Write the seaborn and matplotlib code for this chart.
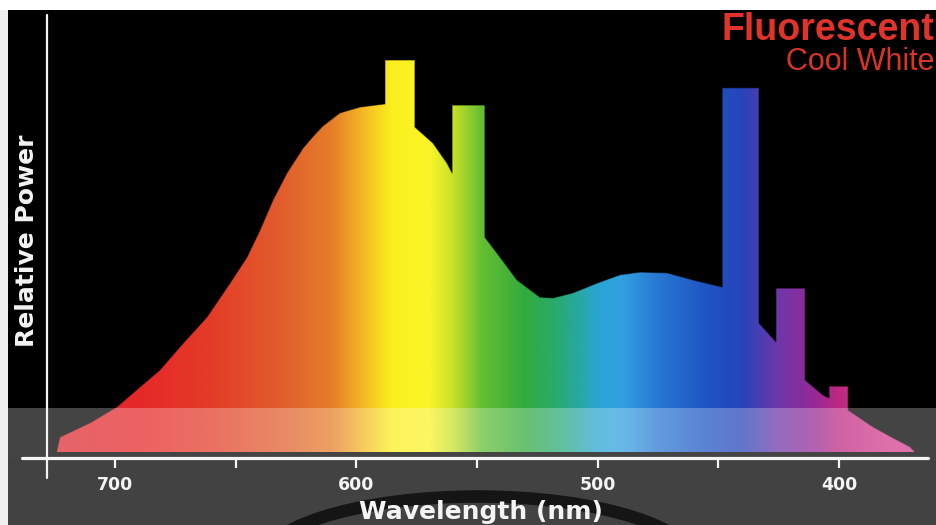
#!/usr/bin/env python3
"""Spectral power distribution of a cool white fluorescent lamp."""

from __future__ import annotations

import matplotlib

matplotlib.use("Agg")

import matplotlib.pyplot as plt
import numpy as np
import pandas as pd
import seaborn as sns
from matplotlib.patches import Ellipse, Rectangle

# continuum with the mercury / phosphor lines drawn as flat-topped blocks
wavelength_nm = [
    724.0, 722.8, 710.4, 699.2, 689.6, 681.4, 673.1, 661.9, 652.3, 645.3,
    639.9, 634.5, 628.7, 622.1, 617.5, 613.8, 606.8, 598.5, 588.1, 588.1,
    575.7, 575.7, 568.2, 562.4, 560.3, 560.3, 546.7, 546.7, 540.4, 533.4,
    523.9, 518.5, 510.2, 500.2, 490.7, 482.4, 471.2, 460.5, 448.4, 448.4,
    433.1, 433.1, 426.1, 426.1, 414.0, 414.0, 406.6, 404.1, 404.1, 396.2,
    396.2, 385.9, 377.6, 370.5, 368.5,
]
relative_power = [
    0.5, 3.8, 7.4, 11.5, 16.6, 20.9, 26.8, 34.4, 43.1, 49.7,
    56.6, 64.3, 71.2, 77.5, 80.8, 83.2, 86.5, 88.0, 88.8, 100.0,
    100.0, 82.9, 78.8, 73.7, 71.2, 88.5, 88.5, 54.8, 49.7, 43.9,
    39.5, 39.3, 40.6, 43.1, 45.2, 45.9, 45.7, 43.9, 42.1, 92.9,
    92.9, 32.9, 28.1, 41.8, 41.8, 18.4, 14.5, 13.8, 16.8, 16.8,
    10.7, 6.4, 3.6, 1.3, 0.0,
]
major_ticks = [700, 600, 500, 400]
minor_ticks = [650, 550, 450]
title = "Fluorescent"
subtitle = "Cool White"

# colour of the fill at each wavelength (ascending nm)
stop_nm = [360, 380, 400, 410, 425, 440, 455, 475, 490, 500, 515, 530,
           548, 560, 570, 585, 596, 610, 630, 660, 690, 745]
stop_rgb = [
    (215, 60, 140), (210, 60, 140), (190, 40, 130), (150, 40, 150),
    (110, 55, 170), (38, 68, 185), (30, 85, 195), (40, 120, 210),
    (50, 160, 225), (40, 165, 210), (40, 170, 120), (50, 170, 60),
    (100, 190, 50), (200, 225, 40), (250, 245, 40), (252, 240, 30),
    (245, 190, 35), (230, 125, 40), (225, 95, 45), (228, 60, 40),
    (230, 40, 40), (215, 45, 55),
]

W_PX, H_PX = 936, 525
XLIM = (744.3, 359.8)
YLIM = (-1.53, 112.76)


def spectrum_image() -> np.ndarray:
    grid = np.linspace(XLIM[0], XLIM[1], 900)
    rgb = np.array(stop_rgb, dtype=float) / 255.0
    cols = [np.interp(grid, stop_nm, rgb[:, k]) for k in range(3)]
    return np.stack(cols, axis=-1)[np.newaxis, :, :]


def main() -> int:
    sns.set_style("ticks")
    plt.rcParams["font.family"] = ["DejaVu Sans"]

    frame = pd.DataFrame({"wavelength": wavelength_nm, "power": relative_power})

    fig = plt.figure(figsize=(W_PX / 100, H_PX / 100), dpi=100)
    fig.patch.set_facecolor("#424242")
    ax = fig.add_axes([8 / W_PX, (H_PX - 458) / H_PX, 928 / W_PX, 448 / H_PX])
    ax.set_facecolor("black")

    poly = ax.fill_between(frame["wavelength"], 0, frame["power"],
                           facecolor="none", edgecolor="none")
    img = ax.imshow(spectrum_image(), extent=(XLIM[0], XLIM[1], 0, 101),
                    aspect="auto", interpolation="bilinear", zorder=1)
    img.set_clip_path(poly.get_paths()[0], transform=ax.transData)
    sns.lineplot(data=frame, x="wavelength", y="power", sort=False,
                 estimator=None, color="black", linewidth=0.8, alpha=0.5,
                 ax=ax, zorder=2)

    # washed-out grey band along the bottom of the plot
    ax.add_patch(Rectangle((0, 0), 1, 50 / 448, transform=ax.transAxes,
                           facecolor="white", alpha=0.27, edgecolor="none",
                           zorder=3))

    ax.set_xlim(*XLIM)
    ax.set_ylim(*YLIM)
    for side in ax.spines.values():
        side.set_visible(False)
    ax.plot([14 / 928, 920 / 928], [0, 0], transform=ax.transAxes,
            color="#f4f4f4", lw=2.3, clip_on=False, zorder=5)
    ax.plot([39 / 928, 39 / 928], [-20 / 448, 443 / 448], transform=ax.transAxes,
            color="#f4f4f4", lw=1.6, clip_on=False, zorder=5)

    ax.set_xticks(major_ticks)
    ax.set_xticks(minor_ticks, minor=True)
    ax.set_xticklabels([str(t) for t in major_ticks])
    ax.set_yticks([])
    ax.tick_params(axis="x", which="both", direction="out", length=7,
                   width=1.6, colors="#f4f4f4", pad=6)
    for lab in ax.get_xticklabels():
        lab.set_fontweight("bold")
        lab.set_fontsize(12.5)

    ax.set_xlabel("Wavelength (nm)", color="#f4f4f4", fontsize=18,
                  fontweight="bold")
    ax.xaxis.set_label_coords(473 / 928, -54 / 448)
    ax.set_ylabel("Relative Power", color="#f4f4f4", fontsize=18,
                  fontweight="bold")
    ax.yaxis.set_label_coords(19.5 / 928, 217 / 448)
    ax.yaxis.label.set_va("center")
    ax.xaxis.label.set_va("center")

    fig.text(934 / W_PX, 1 - 40 / H_PX, title, ha="right", va="baseline",
             color="#e0332a", fontsize=27, fontweight="bold",
             family=["Liberation Sans", "DejaVu Sans"])
    fig.text(934 / W_PX, 1 - 70 / H_PX, subtitle, ha="right", va="baseline",
             color="#d83428", fontsize=22,
             family=["Liberation Sans", "DejaVu Sans"])

    # white scan margins and the dark ring below the axis
    fig.patches.append(Rectangle((0, 0), 8 / W_PX, 1, transform=fig.transFigure,
                                 facecolor="#efefef", edgecolor="none",
                                 zorder=-1))
    fig.patches.append(Rectangle((0, 1 - 10 / H_PX), 1, 10 / H_PX,
                                 transform=fig.transFigure,
                                 facecolor="white", edgecolor="none",
                                 zorder=-1))
    fig.patches.append(Ellipse((4.78, -0.42), 4.4, 1.41,
                               transform=fig.dpi_scale_trans,
                               facecolor="none", edgecolor="#151515", lw=9,
                               zorder=-1))

    fig.savefig("out.png", dpi=100, facecolor=fig.get_facecolor())
    plt.close(fig)
    return 0


if __name__ == "__main__":
    raise SystemExit(main())
